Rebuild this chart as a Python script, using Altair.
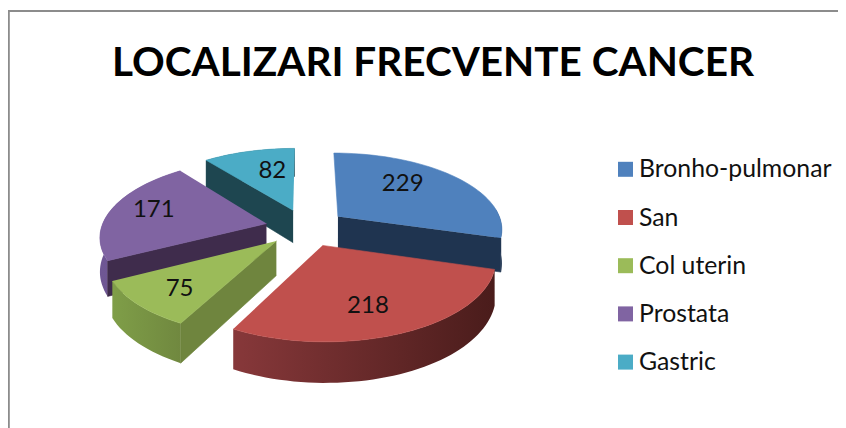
import numpy as np
import pandas as pd
import altair as alt

# ---- data ----
CATEGORIES = ["Bronho-pulmonar", "San", "Col uterin", "Prostata", "Gastric"]
VALUES = [229, 218, 75, 171, 82]
TITLE = "LOCALIZARI FRECVENTE CANCER"

# ---- style ----
TOP = ["#4f81bd", "#c0504d", "#9bbb59", "#8064a2", "#4bacc6"]
RADIAL = ["#1f3450", "#4d1f1e", "#6f853e", "#3f2c4c", "#1e4650"]
OUTER = [("#24405f", "#1f3450"), ("#87383a", "#4a1c1b"), ("#7f9e48", "#70883f"),
         ("#6f5794", "#6a5290"), ("#1e4650", "#1e4650")]
FONT = "Lato"
INK = "#111111"

# ---- layout of the tilted pie (pixels of the 846x428 picture) ----
CX, CY, RX, RY, PERSP, DEPTH, EXPLODE = 306.0, 227.5, 165.0, 76.0, 0.15, 33.5, 0.247
LABEL_R = [0.80, 0.833, 0.966, 0.977, 0.705]
LABEL_F = [1.29, 1.16, 1.05, 1.137, 1.264]
# outer wall is only drawn where it can face the viewer
WALL_FROM = [1.45, 0.0, 0.0, 0.0, 0.0]
# radial wall on the slice's (0) start edge, (1) end edge, or none
RADIAL_EDGE = [1, None, 0, 0, 0]


def project(X, F, h=0.0):
    s = 1.0 / (1.0 - PERSP * F)
    return CX + RX * X * s, CY + RY * F * s + h * DEPTH * s


def frame(xs, ys):
    return pd.DataFrame({"x": xs, "y": ys, "i": range(len(xs))})


xs_scale = alt.Scale(domain=[8, 838], range=[0, 830])
ys_scale = alt.Scale(domain=[8, 428], range=[0, 420])


def poly(df, fill):
    solid = isinstance(fill, str)
    return alt.Chart(df).mark_line(fill=fill, stroke=fill if solid else "#00000000",
                                   strokeWidth=0.6 if solid else 0).encode(
        x=alt.X("x:Q", scale=xs_scale, axis=None),
        y=alt.Y("y:Q", scale=ys_scale, axis=None),
        order="i:Q",
    )


total = sum(VALUES)
edges = np.concatenate([[0.0], np.cumsum(VALUES)]) / total * 2 * np.pi
mids = (edges[:-1] + edges[1:]) / 2

layers = []
# frame of the chart
border = pd.DataFrame({"x": [8.8, 8.8, 838], "y": [428, 11, 11], "i": [0, 1, 2]})
layers.append(alt.Chart(border).mark_line(color="#8c8c8c", strokeWidth=2).encode(
    x=alt.X("x:Q", scale=xs_scale, axis=None),
    y=alt.Y("y:Q", scale=ys_scale, axis=None),
    order="i:Q"))

for k in [4, 3, 2, 0, 1]:
    t0, t1, m = edges[k], edges[k + 1], mids[k]
    ox, oy = EXPLODE * np.sin(m), -EXPLODE * np.cos(m)
    th = np.linspace(t0, t1, max(8, int((t1 - t0) / np.radians(2))))
    aX, aF = ox + np.sin(th), oy - np.cos(th)
    x_top, y_top = project(aX, aF)
    # outer wall
    vis = th >= WALL_FROM[k]
    x_t, y_t = project(aX[vis], aF[vis])
    x_b, y_b = project(aX[vis], aF[vis], 1.0)
    strip = frame(np.concatenate([x_t, x_b[::-1]]), np.concatenate([y_t, y_b[::-1]]))
    grad = alt.LinearGradient(gradient="linear", x1=0, y1=0, x2=1, y2=0,
                              stops=[alt.GradientStop(color=OUTER[k][0], offset=0),
                                     alt.GradientStop(color=OUTER[k][1], offset=1)])
    layers.append(poly(strip, grad))
    # radial wall
    if RADIAL_EDGE[k] is not None:
        e = [t0, t1][RADIAL_EDGE[k]]
        eX, eF = ox + np.sin(e), oy - np.cos(e)
        p = [project(ox, oy), project(eX, eF), project(eX, eF, 1.0), project(ox, oy, 1.0)]
        layers.append(poly(frame([q[0] for q in p], [q[1] for q in p]), RADIAL[k]))
    # top face
    ax, ay = project(ox, oy)
    layers.append(poly(frame(np.concatenate([[ax], x_top]), np.concatenate([[ay], y_top])), TOP[k]))

# value labels
lx, ly = [], []
for k, m in enumerate(mids):
    x, y = project(LABEL_R[k] * np.sin(m), -LABEL_R[k] * np.cos(m) * LABEL_F[k])
    lx.append(x)
    ly.append(y)
labels = pd.DataFrame({"x": lx, "y": ly, "v": VALUES})
layers.append(alt.Chart(labels).mark_text(font=FONT, fontSize=24, color=INK, baseline="middle").encode(
    x=alt.X("x:Q", scale=xs_scale, axis=None),
    y=alt.Y("y:Q", scale=ys_scale, axis=None),
    text="v:N"))

# legend
leg = pd.DataFrame({"name": CATEGORIES, "c": TOP, "y": [169.3 + 48.2 * i for i in range(5)],
                    "sx": [625.5] * 5, "tx": [639] * 5, "ty": [170.3 + 48.2 * i for i in range(5)]})
layers.append(alt.Chart(leg).mark_square(size=225, opacity=1, strokeWidth=0).encode(
    x=alt.X("sx:Q", scale=xs_scale, axis=None),
    y=alt.Y("y:Q", scale=ys_scale, axis=None),
    fill=alt.Fill("c:N", scale=None)))
layers.append(alt.Chart(leg).mark_text(font=FONT, fontSize=24.8, color=INK, align="left", baseline="middle").encode(
    x=alt.X("tx:Q", scale=xs_scale, axis=None),
    y=alt.Y("ty:Q", scale=ys_scale, axis=None),
    text="name:N"))

# title
ttl = pd.DataFrame({"x": [433], "y": [63.5], "t": [TITLE]})
layers.append(alt.Chart(ttl).mark_text(font=FONT, fontSize=40.5, fontWeight="bold", color="#000000", baseline="middle").encode(
    x=alt.X("x:Q", scale=xs_scale, axis=None),
    y=alt.Y("y:Q", scale=ys_scale, axis=None),
    text="t:N"))

chart = alt.layer(*layers).properties(
    width=830, height=420, padding=0, background="white",
    autosize=alt.AutoSizeParams(type="none"),
).configure_view(stroke=None)

chart.save("out.html", embed_options={"renderer": "svg", "actions": False})
